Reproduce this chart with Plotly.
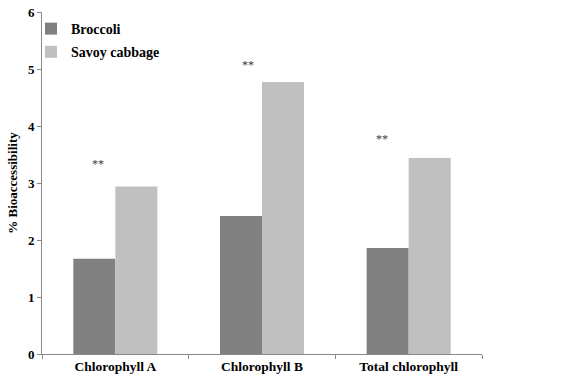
import plotly.graph_objects as go

categories = ["Chlorophyll A", "Chlorophyll B", "Total chlorophyll"]
broccoli = [1.67, 2.42, 1.86]
savoy = [2.94, 4.77, 3.44]
sig_labels = ["**", "**", "**"]
sig_y = [3.33, 5.07, 3.77]
y_ticks = [0, 1, 2, 3, 4, 5, 6]

font_family = "Liberation Serif, Times New Roman, serif"

fig = go.Figure()
fig.add_trace(go.Bar(x=categories, y=broccoli, name="Broccoli",
                     marker=dict(color="#808080", line=dict(width=0)),
                     legendgroup="a"))
fig.add_trace(go.Bar(x=categories, y=savoy, name="Savoy cabbage",
                     marker=dict(color="#C0C0C0", line=dict(width=0)),
                     legendgroup="b"))

shifts = [-17, -14, -27]
for c, t, yv, s in zip(categories, sig_labels, sig_y, shifts):
    fig.add_annotation(x=c, y=yv, text=t, showarrow=False, xshift=s,
                       font=dict(family=font_family, size=12, color="#3a3a3a"))

fig.update_layout(
    width=580, height=385,
    margin=dict(l=42, r=98, t=12, b=31, autoexpand=False),
    plot_bgcolor="white", paper_bgcolor="white",
    barmode="group", bargap=0.427, bargroupgap=0,
    font=dict(family=font_family, size=13, color="black"),
    legend=dict(x=-0.025, y=0.997, xanchor="left", yanchor="top",
                font=dict(family=font_family, size=14, color="black", weight="bold"),
                bgcolor="rgba(0,0,0,0)", tracegroupgap=2,
                itemwidth=30),
    showlegend=True,
)
fig.update_xaxes(
    automargin=False,
    showline=True, linecolor="#888888", linewidth=1,
    ticks="outside", tickson="boundaries", ticklen=4, tickcolor="#888888",
    tickfont=dict(family=font_family, size=13.5, color="black", weight="bold"),
    showgrid=False, zeroline=False,
)
fig.update_yaxes(
    automargin=False,
    range=[0, 6], tickvals=y_ticks, ticktext=[str(v) for v in y_ticks],
    showline=True, linecolor="#888888", linewidth=1,
    ticks="outside", ticklen=4, tickcolor="#888888",
    tickfont=dict(family=font_family, size=13, color="black", weight="bold"),
    showgrid=False, zeroline=False,
    title=dict(text="% Bioaccessibility", standoff=7,
               font=dict(family=font_family, size=13, color="black", weight="bold")),
)

fig.write_html("out.html", config={"displayModeBar": False},
               post_script="document.body.style.margin='0px';")
